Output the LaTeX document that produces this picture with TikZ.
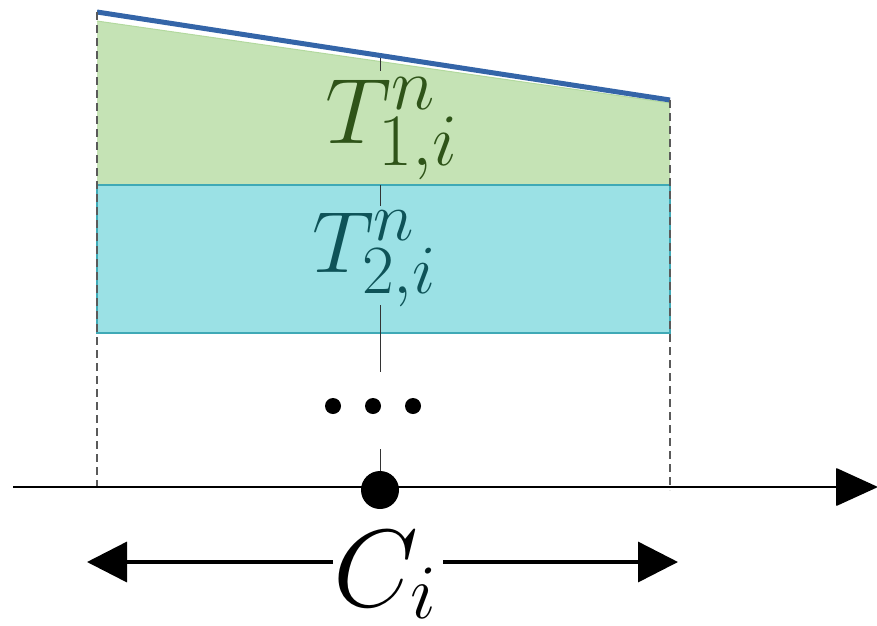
\documentclass[tikz,border=0pt]{standalone}
\usepackage{fix-cm}
\DeclareMathSizes{93}{93}{74}{52}
\DeclareMathSizes{87}{87}{69}{49}
\DeclareMathSizes{110}{110}{77}{55}
\usetikzlibrary{arrows.meta}
\definecolor{bluetop}{HTML}{3465A8}
\definecolor{greenfill}{HTML}{C5E3B5}
\definecolor{greenedge}{HTML}{B2D99E}
\definecolor{cyanfill}{HTML}{9BE1E5}
\definecolor{cyanedge}{HTML}{3FA9B6}
\definecolor{greentext}{HTML}{2F5419}
\definecolor{cyantext}{HTML}{0E5358}
\definecolor{dashgray}{HTML}{5A5A5A}
\begin{document}
\begin{tikzpicture}[x=1pt,y=-1pt,
  guide/.style={draw=dashgray,line width=1.2pt,dash pattern=on 8pt off 5pt},
  midline/.style={draw=black!80,line width=1pt},
  lbl/.style={inner sep=0pt,anchor=base west},
  dotmark/.style={fill=black,draw=none}]
\useasboundingbox (0,0) rectangle (877,625);
% coordinates
\coordinate (tl) at (97,12);
\coordinate (tr) at (670,100);
\coordinate (bl) at (97,490);
\coordinate (br) at (670,490);
% green region
\fill[greenfill] (97,21) -- (670,103) -- (670,184) -- (97,184) -- cycle;
\draw[greenedge,line width=1pt] (97,21) -- (670,103);
% cyan region
\filldraw[fill=cyanfill,draw=cyanedge,line width=1.3pt] (97,185) rectangle (670,333);
% blue top line
\draw[bluetop,line width=5pt] (tl) -- (tr);
% dashed guides
\draw[guide] (tl) -- (bl);
\draw[guide] (tr) -- (br);
% centre line segments
\draw[midline] (380,58) -- (380,71);
\draw[midline] (380,185) -- (380,206);
\draw[midline] (380,305) -- (380,372);
\draw[midline] (380,449) -- (380,490);
% labels
\node[lbl,text=greentext] (t1) at (325,143) {\fontsize{93}{93}\selectfont $T^{n}_{1,i}$};
\node[lbl,text=cyantext] (t2) at (312,272) {\fontsize{87}{87}\selectfont $T^{n}_{2,i}$};
% dots
\fill[dotmark] (333,406) circle (8);
\fill[dotmark] (373,406) circle (8);
\fill[dotmark] (413,406) circle (8);
% axis
\coordinate (ax0) at (13,487);
\coordinate (ax1) at (877,487);
\draw[line width=1.4pt,-{Triangle[length=42pt,width=38pt,round]}] (ax0) -- (ax1);
\fill[dotmark] (380,490) circle (19);
% C_i arrow
\node[lbl] (ci) at (333,606) {\fontsize{110}{110}\selectfont $C_{\raisebox{7pt}{$\scriptstyle i$}}$};
\coordinate (cl) at (333,562);
\coordinate (cr) at (443,562);
\coordinate (al) at (87,562);
\coordinate (ar) at (678,562);
\draw[line width=3.5pt,-{Triangle[length=40pt,width=40pt]}] (cl) -- (al);
\draw[line width=3.5pt,-{Triangle[length=40pt,width=40pt]}] (cr) -- (ar);
\end{tikzpicture}
\end{document}
